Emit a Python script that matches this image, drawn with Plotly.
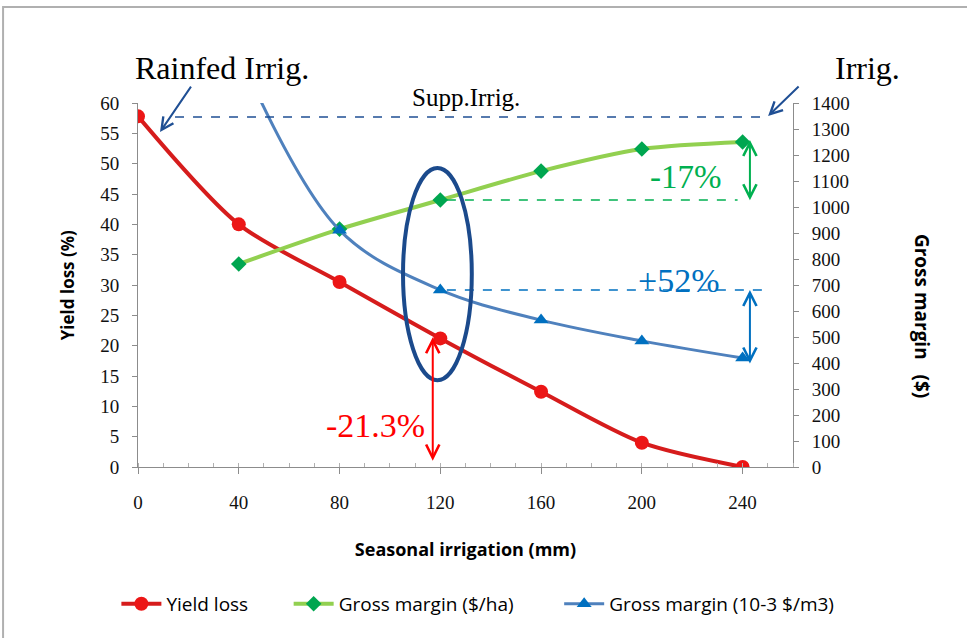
import plotly.graph_objects as go

# ---- data ----
irrigation = [0, 40, 80, 120, 160, 200, 240]
yield_loss = [57.8, 40.0, 30.5, 21.2, 12.4, 4.0, 0.0]
gm_ha_x = [40, 80, 120, 160, 200, 240]
gm_ha = [781, 915, 1027, 1138, 1223, 1250]
gm_m3_x = [40, 80, 120, 160, 200, 240]
gm_m3 = [1590, 911, 681, 565, 485, 419]
x_ticks = [0, 40, 80, 120, 160, 200, 240]

SERIF = "Liberation Serif"
SANS = "Open Sans"
NAVY = "#1F4F94"
GREEN_T = "#00B050"
BLUE_T = "#0070C0"

fig = go.Figure()
fig.add_trace(go.Scatter(
    x=irrigation, y=yield_loss, name="Yield loss", mode="lines+markers", legend="legend",
    line=dict(color="rgb(214,28,28)", width=4, shape="spline", smoothing=0.8),
    marker=dict(symbol="circle", size=14, color="rgb(236,22,22)"),
))
fig.add_trace(go.Scatter(
    x=gm_ha_x, y=gm_ha, name="Gross margin ($/ha)", mode="lines+markers", yaxis="y2",
    legend="legend2",
    line=dict(color="rgb(146,208,80)", width=4, shape="spline", smoothing=0.8),
    marker=dict(symbol="diamond", size=12, color="rgb(0,166,80)"),
))
fig.add_trace(go.Scatter(
    x=gm_m3_x, y=gm_m3, name="Gross margin (10-3 $/m3)", mode="lines+markers", yaxis="y2",
    legend="legend3",
    line=dict(color="rgb(79,129,189)", width=3, shape="spline", smoothing=1.0),
    marker=dict(symbol="triangle-up", size=13, color="rgb(0,112,192)"),
))

shapes = [
    # outer frame
    dict(type="rect", xref="paper", yref="paper", x0=-0.206, x1=1.3, y0=-0.52, y1=1.264,
         line=dict(color="#b0b0b0", width=2), layer="below"),
    # dashed reference lines
    dict(type="line", xref="x", yref="y", x0=14.7, x1=248.8, y0=57.7, y1=57.7,
         line=dict(color=NAVY, width=1.5, dash="dash")),
    dict(type="line", xref="x", yref="y2", x0=122.6, x1=238, y0=1027, y1=1027,
         line=dict(color=GREEN_T, width=1.5, dash="dash")),
    dict(type="line", xref="x", yref="y2", x0=122.6, x1=250.8, y0=681, y1=681,
         line=dict(color=BLUE_T, width=1.5, dash="dash")),
    # ellipse
    dict(type="circle", xref="x", yref="y", x0=105.2, x1=132.5, y0=14.3, y1=49.3,
         line=dict(color="#1B4A8C", width=4)),
]

def txt(text, xref, yref, x, y, size, color, family=SERIF, angle=0):
    return dict(text=text, xref=xref, yref=yref, x=x, y=y, showarrow=False,
                xanchor="center", yanchor="middle", textangle=angle,
                font=dict(family=family, size=size, color=color))

annotations = [
    txt("Rainfed Irrig.", "paper", "paper", 0.128, 1.096, 32, "black"),
    txt("Irrig.", "paper", "paper", 1.113, 1.096, 32, "black"),
    txt("Supp.Irrig.", "paper", "paper", 0.5, 1.016, 25, "black"),
    txt("-17%", "x", "y2", 217.5, 1115, 33, GREEN_T),
    txt("+52%", "x", "y2", 214.7, 719, 34, BLUE_T),
    txt("-21.3%", "x", "y", 94.4, 6.9, 34, "#FF0000"),
    # pointer arrows
    dict(text="", xref="paper", yref="paper", x=0.0336, y=0.920, ax=32, ay=-47,
         showarrow=True, arrowhead=5, arrowsize=1.2, arrowwidth=2, arrowcolor=NAVY),
    dict(text="", xref="paper", yref="paper", x=0.962, y=0.964, ax=32, ay=-31,
         showarrow=True, arrowhead=5, arrowsize=1.2, arrowwidth=2, arrowcolor=NAVY),
    # double arrows
    dict(text="", xref="x", yref="y2", x=242.9, y=1258, axref="x", ayref="y2", ax=242.9, ay=1020,
         showarrow=True, arrowhead=5, startarrowhead=5, arrowside="end+start",
         arrowsize=1.3, startarrowsize=1.3, arrowwidth=2, arrowcolor=GREEN_T),
    dict(text="", xref="x", yref="y2", x=242.9, y=681, axref="x", ayref="y2", ax=242.9, ay=392,
         showarrow=True, arrowhead=5, startarrowhead=5, arrowside="end+start",
         arrowsize=1.3, startarrowsize=1.3, arrowwidth=2, arrowcolor=BLUE_T),
    dict(text="", xref="x", yref="y", x=117, y=21.4, axref="x", ayref="y", ax=117, ay=0.8,
         showarrow=True, arrowhead=5, startarrowhead=5, arrowside="end+start",
         arrowsize=1.3, startarrowsize=1.3, arrowwidth=2, arrowcolor="#FF0000"),
    # axis titles
    txt("<b>Yield loss (%)</b>", "paper", "paper", -0.108, 0.5, 17, "black", SANS, -90),
    txt("<b>Gross margin   ($)</b>", "paper", "paper", 1.197, 0.415, 19, "black", SANS, 90),
]

leg_font = dict(family=SANS, size=19, color="black")
leg_common = dict(orientation="h", y=-0.376, yanchor="middle", xanchor="left",
                  font=leg_font, itemwidth=40, bgcolor="rgba(0,0,0,0)")

fig.update_layout(
    width=967, height=638,
    margin=dict(l=138, r=174, t=103, b=171),
    paper_bgcolor="white", plot_bgcolor="white",
    showlegend=True,
    legend=dict(x=-0.033, **leg_common),
    legend2=dict(x=0.230, **leg_common),
    legend3=dict(x=0.643, **leg_common),
    xaxis=dict(range=[0, 260], tickvals=x_ticks, showgrid=False, zeroline=False,
               showline=True, linecolor="#8c8c8c", linewidth=1,
               ticks="outside", ticklen=6, tickcolor="#8c8c8c", ticklabelstandoff=12,
               minor=dict(dtick=10, ticks="inside", ticklen=4, tickcolor="#b0b0b0"),
               tickfont=dict(family=SERIF, size=19, color="#111"),
               title=dict(text="<b>Seasonal irrigation (mm)</b>", standoff=31,
                          font=dict(family=SANS, size=18, color="black"))),
    yaxis=dict(range=[0, 60], dtick=5, showgrid=False, zeroline=False,
               showline=True, linecolor="#8c8c8c", linewidth=1,
               ticks="outside", ticklen=5, tickcolor="#8c8c8c", ticklabelstandoff=9,
               tickfont=dict(family=SERIF, size=19, color="#111")),
    yaxis2=dict(range=[0, 1400], dtick=100, overlaying="y", side="right",
                showgrid=False, zeroline=False,
                showline=True, linecolor="#8c8c8c", linewidth=1,
                ticks="outside", ticklen=5, tickcolor="#8c8c8c", ticklabelstandoff=9,
                tickfont=dict(family=SERIF, size=19, color="#111")),
    shapes=shapes,
    annotations=annotations,
)

fig.write_html("out.html")
